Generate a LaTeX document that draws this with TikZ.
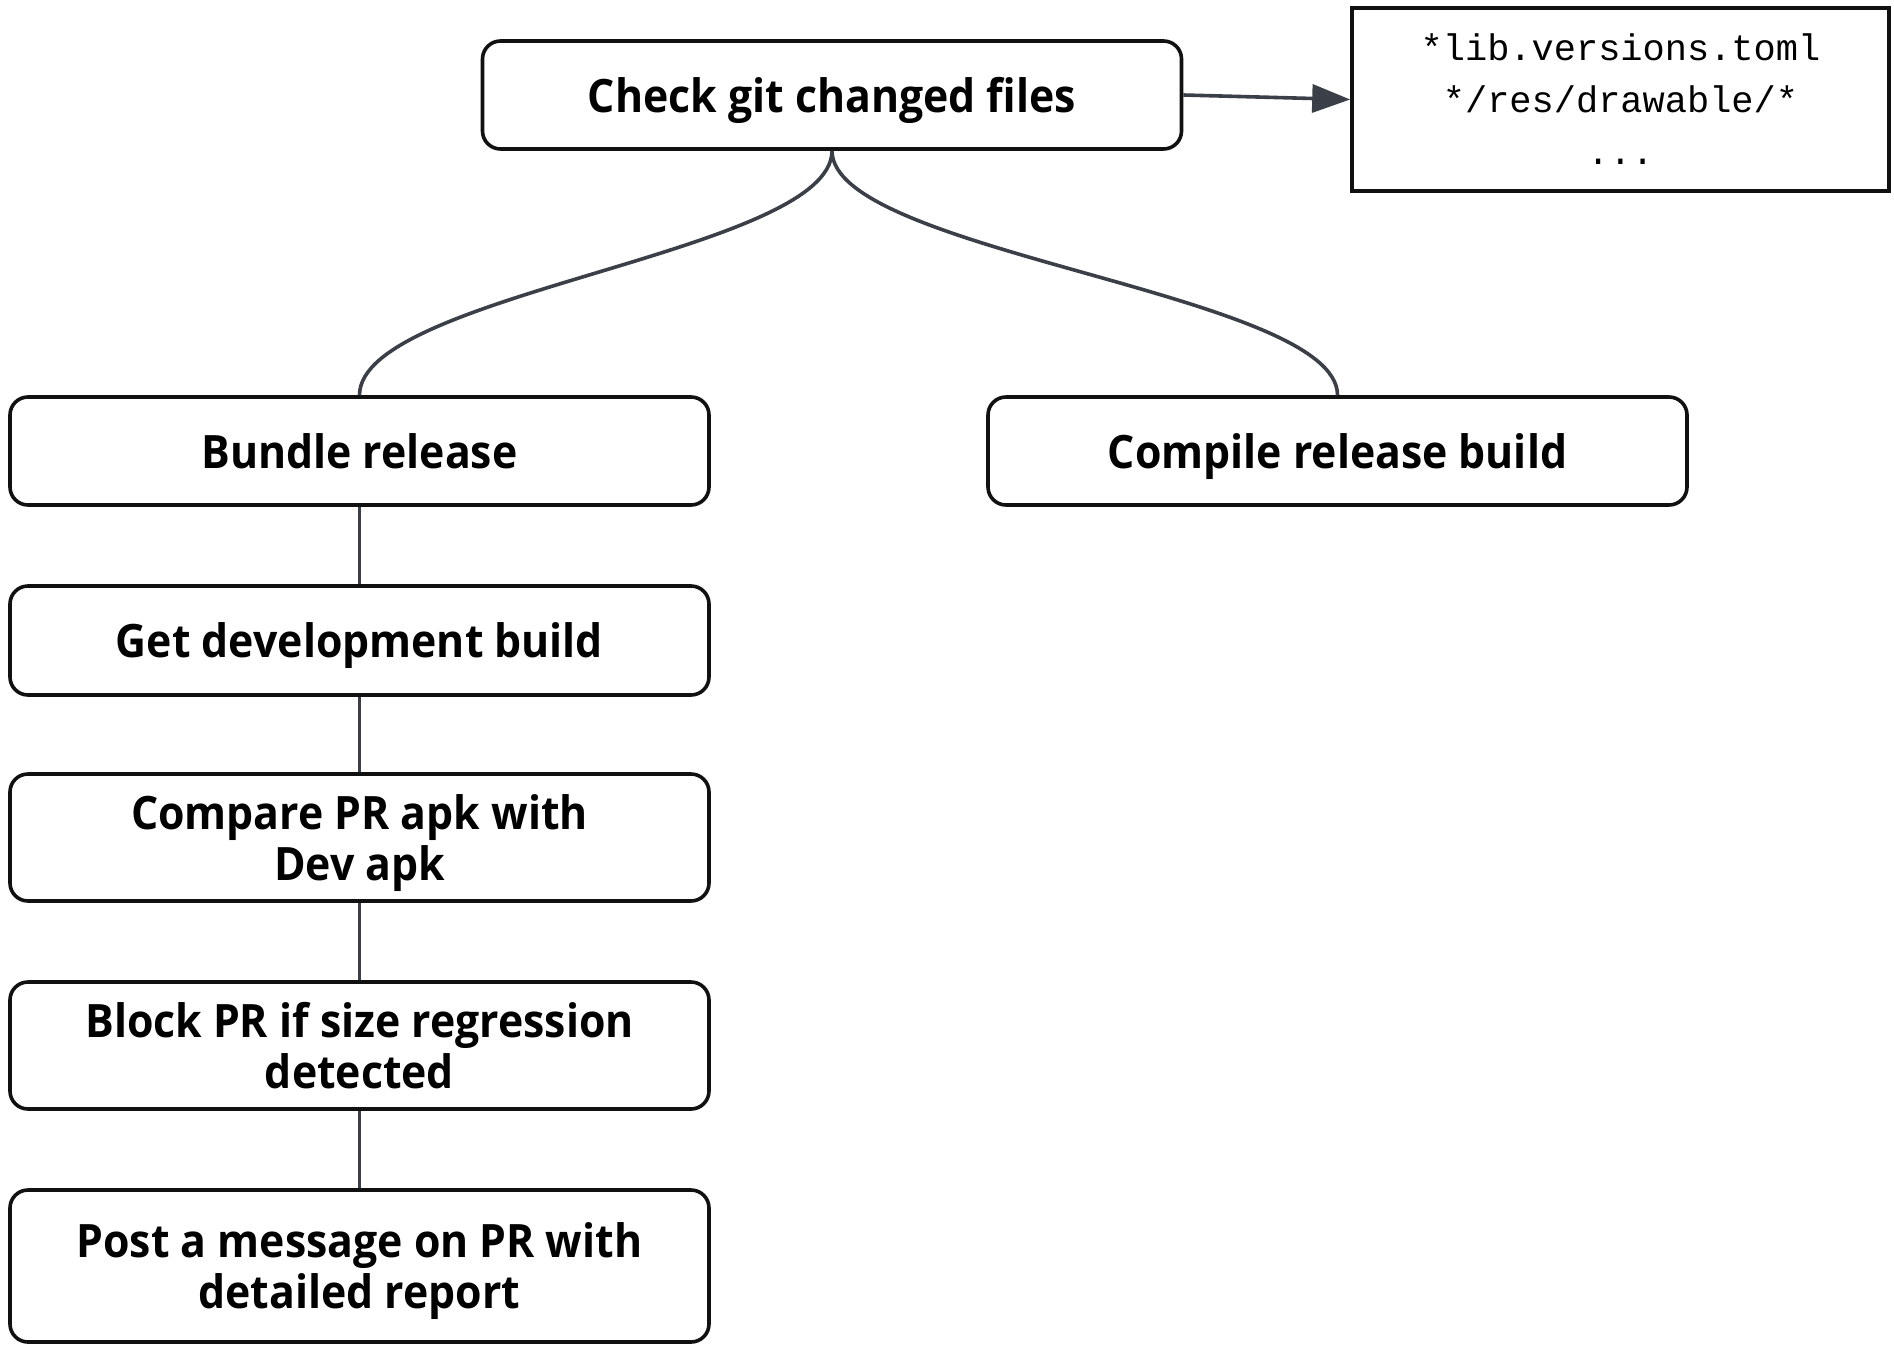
\documentclass[tikz,border=0pt]{standalone}
\usepackage{fontspec}
\setmainfont{Open Sans}[FakeStretch=0.93]
\newfontfamily\codefont{Liberation Mono}
\usetikzlibrary{arrows.meta}
\definecolor{conn}{HTML}{3A3F48}
\definecolor{edge}{HTML}{111111}
\begin{document}
\begin{tikzpicture}[x=1pt,y=-1pt,
  stepbox/.style={draw=edge, line width=3.6pt, rounded corners=18pt, fill=white,
    minimum width=699pt, inner sep=0pt, align=center, text depth=0pt,
    font=\fontsize{46}{51}\selectfont\bfseries},
  codebox/.style={draw=edge, line width=3.6pt, fill=white, inner sep=0pt,
    minimum width=537pt, minimum height=183pt, align=center,
    font=\fontsize{37}{52}\selectfont\codefont},
  link/.style={draw=conn, line width=3.6pt},
  arrowlink/.style={link, -{Triangle[length=38pt,width=28pt]}}
]
\useasboundingbox (0,0) rectangle (1894,1354);
\node[stepbox, minimum height=108pt] (check) at (832,95) {Check git changed files};
\node[codebox] (files) at (1620.5,99.5) {*lib.versions.toml\\*/res/drawable/*\\...};
\node[stepbox, minimum height=108pt] (bundle) at (359.5,451) {Bundle release};
\node[stepbox, minimum height=108pt] (compile) at (1337.5,451) {Compile release build};
\node[stepbox, minimum height=109pt] (dev) at (359.5,640.5) {Get development build};
\node[stepbox, minimum height=127pt] (compare) at (359.5,837.5) {Compare PR apk with\\Dev apk};
\node[stepbox, minimum height=127pt] (block) at (359.5,1045.5) {Block PR if size regression\\detected};
\node[stepbox, minimum height=152pt] (post) at (359.5,1266) {Post a message on PR with\\detailed report};

\draw[arrowlink] (check.east) -- (files.west);
\draw[link] (check.south) .. controls +(0,102) and +(0,-102) .. (bundle.north);
\draw[link] (check.south) .. controls +(0,102) and +(0,-102) .. (compile.north);
\draw[link] (bundle) -- (dev);
\draw[link] (dev) -- (compare);
\draw[link] (compare) -- (block);
\draw[link] (block) -- (post);
\end{tikzpicture}
\end{document}
